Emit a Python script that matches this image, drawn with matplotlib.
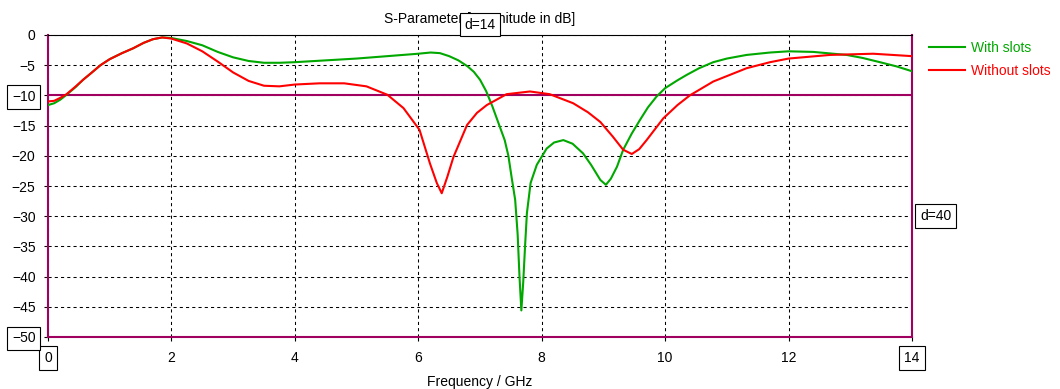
import matplotlib
matplotlib.use("Agg")
import matplotlib.pyplot as plt

plt.rcParams['font.family'] = ['Liberation Sans', 'DejaVu Sans']
plt.rcParams['font.size'] = 10

# S11 with slots (frequency in GHz, magnitude in dB)
f_with = [0.0, 0.1, 0.2, 0.3, 0.45, 0.57, 0.7, 0.85, 1.0, 1.2, 1.38, 1.55, 1.7, 1.85,
          2.0, 2.25, 2.5, 2.75, 3.0, 3.25, 3.5, 3.75, 4.0, 4.5, 5.0, 5.5, 6.0, 6.2,
          6.35, 6.5, 6.65, 6.8, 6.9, 7.0, 7.1, 7.2, 7.3, 7.4, 7.46, 7.51, 7.57, 7.61,
          7.64, 7.67, 7.70, 7.73, 7.76, 7.82, 7.92, 8.08, 8.2, 8.35, 8.5, 8.67, 8.8,
          8.95, 9.04, 9.12, 9.22, 9.32, 9.46, 9.59, 9.72, 9.86, 10.0, 10.2, 10.35,
          10.55, 10.78, 11.0, 11.32, 11.7, 12.0, 12.4, 12.94, 13.2, 13.48, 13.75, 14.0]
s_with = [-11.6, -11.3, -10.7, -9.9, -8.6, -7.4, -6.3, -5.0, -4.0, -3.0, -2.2, -1.3, -0.7, -0.4,
          -0.5, -1.0, -1.7, -2.8, -3.7, -4.3, -4.6, -4.6, -4.5, -4.2, -3.9, -3.5, -3.1, -2.9,
          -3.0, -3.5, -4.2, -5.2, -6.1, -7.4, -9.3, -11.8, -14.6, -17.4, -20.0, -23.4, -27.3, -33.0,
          -40.0, -45.6, -41.0, -35.0, -29.5, -24.5, -21.5, -18.8, -17.8, -17.4, -18.0, -19.6, -21.5,
          -24.0, -24.8, -23.8, -21.8, -19.0, -16.3, -14.1, -12.0, -10.2, -8.8, -7.5, -6.6,
          -5.5, -4.5, -3.9, -3.3, -2.9, -2.7, -2.8, -3.3, -3.8, -4.5, -5.2, -6.0]

# S11 without slots
f_without = [0.0, 0.1, 0.2, 0.3, 0.45, 0.57, 0.7, 0.85, 1.0, 1.2, 1.38, 1.55, 1.7, 1.85,
             2.0, 2.25, 2.5, 2.75, 3.0, 3.25, 3.5, 3.75, 4.0, 4.4, 4.8, 5.16, 5.5, 5.76,
             6.02, 6.19, 6.3, 6.38, 6.47, 6.57, 6.79, 6.95, 7.11, 7.43, 7.81, 8.13, 8.51,
             8.75, 8.95, 9.15, 9.32, 9.46, 9.58, 9.70, 9.97, 10.2, 10.4, 10.78, 11.32,
             11.7, 12.0, 12.67, 13.37, 14.0]
s_without = [-11.0, -10.9, -10.4, -9.8, -8.5, -7.4, -6.3, -5.0, -4.0, -3.0, -2.2, -1.3, -0.7, -0.4,
             -0.6, -1.4, -2.7, -4.4, -6.2, -7.6, -8.4, -8.5, -8.2, -8.0, -8.0, -8.5, -9.9, -12.1,
             -15.7, -21.3, -24.5, -26.2, -23.5, -20.2, -14.9, -12.9, -11.6, -9.8, -9.35, -9.8, -11.3,
             -12.8, -14.4, -16.8, -19.0, -19.7, -18.9, -17.4, -13.8, -11.6, -10.0, -7.7, -5.5,
             -4.5, -3.9, -3.3, -3.1, -3.5]

x_ticks = [0, 2, 4, 6, 8, 10, 12, 14]
y_ticks = [0, -5, -10, -15, -20, -25, -30, -35, -40, -45, -50]
boxed_x = ['0', '14']
boxed_y = ['-10', '-50']

green = '#00A800'
red = '#FF0000'
purple = '#A0005F'

fig = plt.figure(figsize=(10.6, 3.89), dpi=100)
ax = fig.add_axes([48 / 1060, 1 - 337 / 389, (912 - 48) / 1060, (337 - 35) / 389])

ax.plot(f_with, s_with, color=green, lw=1.5, label='With slots', zorder=4)
ax.plot(f_without, s_without, color=red, lw=1.5, label='Without slots', zorder=5)
ax.axhline(-10, color=purple, lw=1.5, zorder=3)

ax.set_xlim(0, 14)
ax.set_ylim(-50, 0)
ax.set_xticks(x_ticks)
ax.set_yticks(y_ticks)
ax.grid(True, color='black', lw=0.75, ls=(0, (3, 3)))
ax.set_axisbelow(True)

for side in ['left', 'right', 'bottom']:
    ax.spines[side].set_color(purple)
    ax.spines[side].set_linewidth(1.5)
ax.spines['top'].set_color('black')
ax.spines['top'].set_linewidth(0.8)

ax.tick_params(axis='both', length=3, width=0.8, color='black', labelsize=10)
ax.tick_params(axis='y', pad=6)
ax.tick_params(axis='x', pad=7)

box = dict(facecolor='white', edgecolor='black', lw=0.8, boxstyle='square,pad=0.35')
for lbl in ax.get_yticklabels():
    if lbl.get_text().replace('\u2212', '-') in boxed_y:
        lbl.set_bbox(box)
for lbl in ax.get_xticklabels():
    if lbl.get_text() in boxed_x:
        lbl.set_bbox(box)

ax.set_title('S-Parameter [Magnitude in dB]', fontsize=10, pad=9)
ax.set_xlabel('Frequency / GHz', fontsize=10, labelpad=7)

ax.annotate('d=14', xy=(0.5, 1), xycoords='axes fraction', xytext=(0, 7.5),
            textcoords='offset points', ha='center', va='center', zorder=10, bbox=box)
ax.annotate('d=40', xy=(1, -30), xycoords=('axes fraction', 'data'), xytext=(6, 0),
            textcoords='offset points', ha='left', va='center', annotation_clip=False, bbox=box)

leg = fig.legend(loc='upper left', bbox_to_anchor=(929 / 1060, 1 - 41 / 389),
                 frameon=False, borderpad=0, borderaxespad=0, handlelength=2.6,
                 handletextpad=0.45, labelspacing=0.65, labelcolor='linecolor', fontsize=10)

fig.savefig('out.png', dpi=100)
